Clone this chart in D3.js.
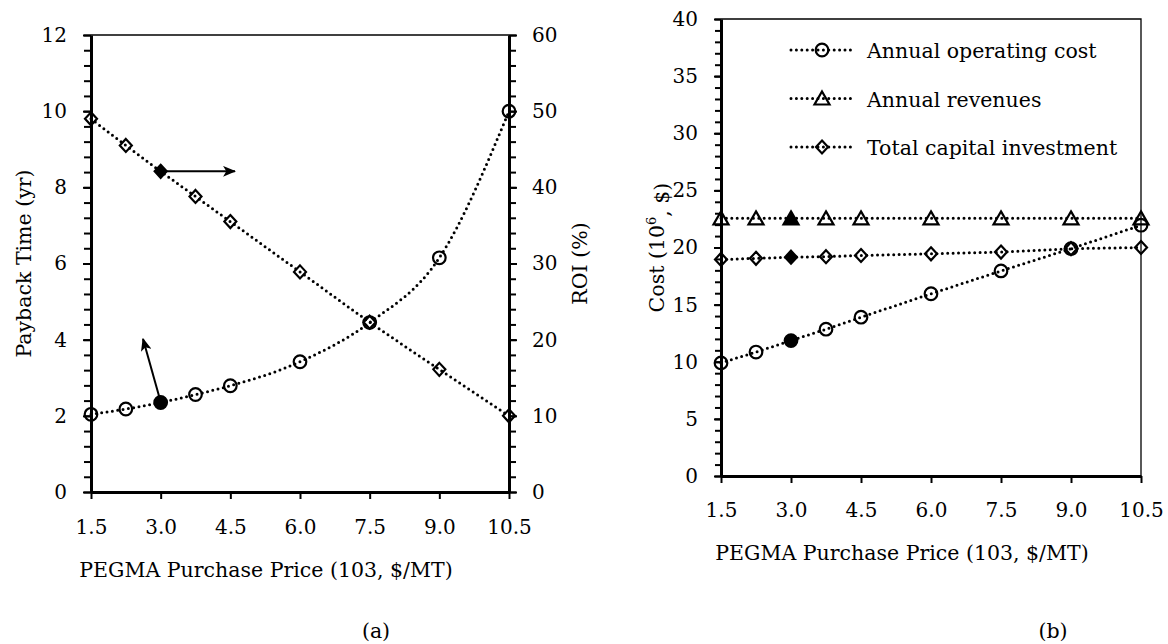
<!DOCTYPE html>
<html>
<head>
<meta charset="utf-8">
<script src="https://cdn.jsdelivr.net/npm/d3@7"></script>
<style>
  body { margin: 0; background: #fff; }
  svg { display: block; }
</style>
</head>
<body>
<svg id="fig" width="1168" height="644"></svg>
<script>

// PEGMA purchase price (10^3 $/MT)
const priceX = [1.5, 2.25, 3.0, 3.75, 4.5, 6.0, 7.5, 9.0, 10.5]
const priceTicks = [1.5, 3.0, 4.5, 6.0, 7.5, 9.0, 10.5]
const basePrice = 3.0 // the filled (base case) point

// (a) payback time & ROI
const paybackYr = [2.04, 2.18, 2.35, 2.56, 2.79, 3.42, 4.45, 6.15, 10.0]
const roiPct = [49.0, 45.5, 42.1, 38.8, 35.5, 28.9, 22.3, 16.1, 10.0]

// (b) costs, 10^6 $
const operatingCost = [9.9, 10.85, 11.85, 12.85, 13.9, 15.95, 17.95, 19.9, 21.95]
const revenues = [22.55, 22.55, 22.55, 22.55, 22.55, 22.55, 22.55, 22.55, 22.55]
const capitalInvest = [18.95, 19.05, 19.15, 19.2, 19.3, 19.45, 19.6, 19.9, 20.0]

const legendNames = ["Annual operating cost", "Annual revenues", "Total capital investment"]

const FONT = "DejaVu Serif"
const svg = d3.select("#fig")

// arrowhead
svg.append("defs").append("marker")
  .attr("id", "arrow")
  .attr("viewBox", "0 0 12 10")
  .attr("refX", 11).attr("refY", 5)
  .attr("markerWidth", 13).attr("markerHeight", 11)
  .attr("markerUnits", "userSpaceOnUse")
  .attr("orient", "auto")
  .append("path")
  .attr("d", "M0,0 L12,5 L0,10 L3,5 Z")
  .attr("fill", "#000")

// marker shapes
const drawMarker = (g, shape, cx, cy, filled) => {
  let el
  if (shape === "circle") {
    el = g.append("circle").attr("cx", cx).attr("cy", cy).attr("r", 6.3)
  } else if (shape === "diamond") {
    el = g.append("path").attr("d", `M${cx},${cy-6.5} L${cx+6},${cy} L${cx},${cy+6.5} L${cx-6},${cy} Z`)
  } else {
    el = g.append("path").attr("d", `M${cx},${cy-7} L${cx+7.5},${cy+6} L${cx-7.5},${cy+6} Z`)
  }
  el.attr("fill", filled ? "#000" : "none")
    .attr("stroke", "#000")
    .attr("stroke-width", 2.2)
}

const drawSeries = (g, xs, ys, x, y, shape, curve) => {
  const pts = xs.map((v, i) => [x(v), y(ys[i])])
  g.append("path")
    .attr("d", d3.line().curve(curve)(pts))
    .attr("fill", "none")
    .attr("stroke", "#000")
    .attr("stroke-width", 3)
    .attr("stroke-linecap", "round")
    .attr("stroke-dasharray", "0 5.4")
  xs.forEach((v, i) => drawMarker(g, shape, x(v), y(ys[i]), v === basePrice))
}

const styleAxis = (sel) => {
  sel.attr("font-family", FONT).attr("font-size", 20)
  sel.select(".domain").attr("stroke-width", 3)
  sel.selectAll(".tick line").attr("stroke-width", 2)
  sel.selectAll("text").attr("fill", "#000")
}

const fmt1 = d3.format(".1f")

// ---------- (a) ----------
{
  const L = 91, R = 509, T = 35, B = 492
  const x = d3.scaleLinear().domain([1.5, 10.5]).range([L, R])
  const yL = d3.scaleLinear().domain([0, 12]).range([B, T])
  const yR = d3.scaleLinear().domain([0, 60]).range([B, T])
  const g = svg.append("g")

  // top frame line
  g.append("line").attr("x1", L).attr("x2", R).attr("y1", T).attr("y2", T)
    .attr("stroke", "#000").attr("stroke-width", 1.3)

  g.append("g").attr("transform", `translate(${L},0)`)
    .call(d3.axisLeft(yL).tickValues(d3.range(0, 12.01, 0.4)).tickSize(7).tickFormat(""))
    .call(s => s.select(".domain").remove())
    .call(s => s.selectAll(".tick line").attr("stroke-width", 2))
  g.append("g").attr("transform", `translate(${L},0)`)
    .call(d3.axisLeft(yL).tickValues(d3.range(0, 13, 2)).tickSize(8).tickSizeOuter(0).tickPadding(16))
    .call(styleAxis)

  g.append("g").attr("transform", `translate(${R},0)`)
    .call(d3.axisRight(yR).tickValues(d3.range(0, 61, 2)).tickSize(7).tickFormat(""))
    .call(s => s.select(".domain").remove())
    .call(s => s.selectAll(".tick line").attr("stroke-width", 2))
  g.append("g").attr("transform", `translate(${R},0)`)
    .call(d3.axisRight(yR).tickValues(d3.range(0, 61, 10)).tickSize(8).tickSizeOuter(0).tickPadding(15))
    .call(styleAxis)

  g.append("g").attr("transform", `translate(0,${B})`)
    .call(d3.axisBottom(x).tickValues(priceTicks).tickSize(7).tickSizeOuter(0).tickPadding(21).tickFormat(fmt1))
    .call(styleAxis)

  drawSeries(g, priceX, roiPct, x, yR, "diamond", d3.curveMonotoneX)
  drawSeries(g, priceX, paybackYr, x, yL, "circle", d3.curveMonotoneX)

  // arrows pointing to each series' axis
  const iBase = priceX.indexOf(basePrice)
  g.append("line")
    .attr("x1", x(basePrice) + 5).attr("y1", yR(roiPct[iBase]))
    .attr("x2", x(4.6)).attr("y2", yR(roiPct[iBase]))
    .attr("stroke", "#000").attr("stroke-width", 2).attr("marker-end", "url(#arrow)")
  g.append("line")
    .attr("x1", x(basePrice) - 1.5).attr("y1", yL(paybackYr[iBase]) - 6)
    .attr("x2", x(2.62)).attr("y2", yL(4.02))
    .attr("stroke", "#000").attr("stroke-width", 2).attr("marker-end", "url(#arrow)")

  g.append("text").attr("transform", `translate(24,${(T + B) / 2}) rotate(-90)`)
    .attr("text-anchor", "middle").attr("dy", "0.35em")
    .attr("font-family", FONT).attr("font-size", 20.5).text("Payback Time (yr)")
  g.append("text").attr("transform", `translate(580,${(T + B) / 2}) rotate(-90)`)
    .attr("text-anchor", "middle").attr("dy", "0.35em")
    .attr("font-family", FONT).attr("font-size", 20.5).text("ROI (%)")
  g.append("text").attr("x", 266).attr("y", 577).attr("text-anchor", "middle")
    .attr("font-family", FONT).attr("font-size", 20.5).text("PEGMA Purchase Price (103, $/MT)")
  g.append("text").attr("x", 376).attr("y", 638).attr("text-anchor", "middle")
    .attr("font-family", FONT).attr("font-size", 20.5).text("(a)")
}

// ---------- (b) ----------
{
  const L = 721, R = 1141, T = 19, B = 476
  const x = d3.scaleLinear().domain([1.5, 10.5]).range([L, R])
  const y = d3.scaleLinear().domain([0, 40]).range([B, T])
  const g = svg.append("g")

  g.append("path").attr("d", `M${L},${T} H${R} V${B}`)
    .attr("fill", "none").attr("stroke", "#000").attr("stroke-width", 1.3)

  g.append("g").attr("transform", `translate(${L},0)`)
    .call(d3.axisLeft(y).tickValues(d3.range(0, 41, 1)).tickSize(6).tickFormat(""))
    .call(s => s.select(".domain").remove())
    .call(s => s.selectAll(".tick line").attr("stroke-width", 2))
  g.append("g").attr("transform", `translate(${L},0)`)
    .call(d3.axisLeft(y).tickValues(d3.range(0, 41, 5)).tickSize(7).tickSizeOuter(0).tickPadding(16))
    .call(styleAxis)

  g.append("g").attr("transform", `translate(0,${B})`)
    .call(d3.axisBottom(x).tickValues(priceTicks).tickSize(7).tickSizeOuter(0).tickPadding(20).tickFormat(fmt1))
    .call(styleAxis)

  drawSeries(g, priceX, capitalInvest, x, y, "diamond", d3.curveLinear)
  drawSeries(g, priceX, revenues, x, y, "triangle", d3.curveLinear)
  drawSeries(g, priceX, operatingCost, x, y, "circle", d3.curveLinear)

  // legend
  const shapes = ["circle", "triangle", "diamond"]
  legendNames.forEach((name, i) => {
    const ly = 50 + i * 48.5
    const lg = g.append("g")
    lg.append("line").attr("x1", 791).attr("x2", 853).attr("y1", ly).attr("y2", ly)
      .attr("stroke", "#000").attr("stroke-width", 3).attr("stroke-linecap", "round")
      .attr("stroke-dasharray", "0 5.4")
    drawMarker(lg, shapes[i], 822, ly, false)
    lg.append("text").attr("x", 867).attr("y", ly + 8)
      .attr("font-family", FONT).attr("font-size", 20.5).text(name)
  })

  const yt = g.append("text").attr("transform", `translate(657,${(T + B) / 2}) rotate(-90)`)
    .attr("text-anchor", "middle").attr("dy", "0.35em")
    .attr("font-family", FONT).attr("font-size", 20.5)
  yt.append("tspan").text("Cost (10")
  yt.append("tspan").attr("font-size", 13).attr("dy", "-0.6em").text("6")
  yt.append("tspan").attr("dy", "0.6em").text(", $)")

  g.append("text").attr("x", 902).attr("y", 560).attr("text-anchor", "middle")
    .attr("font-family", FONT).attr("font-size", 20.5).text("PEGMA Purchase Price (103, $/MT)")
  g.append("text").attr("x", 1053).attr("y", 638).attr("text-anchor", "middle")
    .attr("font-family", FONT).attr("font-size", 20.5).text("(b)")
}
</script>
</body>
</html>
